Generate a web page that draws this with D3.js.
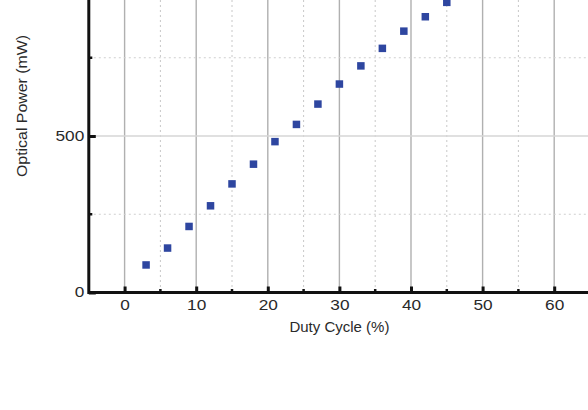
<!DOCTYPE html>
<html><head><meta charset="utf-8">
<script src="https://cdn.jsdelivr.net/npm/d3@7"></script>
<style>body{margin:0;background:#fff}svg{display:block}text{font-family:"Liberation Sans",Arial,sans-serif;fill:#2a2a2a}</style>
</head><body>
<svg id="c" width="588" height="410"></svg>
<script>
const dutyCycle = [3,6,9,12,15,18,21,24,27,30,33,36,39,42,45];
const opticalPower = [88,142,211,277,347,410,482,537,602,666,724,780,835,881,927];
const xMajorTicks = [0,10,20,30,40,50,60];
const xMinorTicks = [-5,5,15,25,35,45,55,65];
const yMajorTicks = [0,500];
const yMinorTicks = [250,750];
const xTitle = "Duty Cycle (%)";
const yTitle = "Optical Power (mW)";

const svg = d3.select("#c");
const x = d3.scaleLinear().domain([-5,65]).range([88.8,590]);
const y = d3.scaleLinear().domain([0,1000]).range([292.5,-20.5]);
const digitW = 9.6;

const grid = svg.append("g");
grid.selectAll(".vmin").data(xMinorTicks).join("line")
  .attr("x1",d=>x(d)).attr("x2",d=>x(d)).attr("y1",0).attr("y2",y(0))
  .attr("stroke","#c8c8c8").attr("stroke-width",1).attr("stroke-dasharray","2,3");
grid.selectAll(".vmaj").data(xMajorTicks).join("line")
  .attr("x1",d=>x(d)).attr("x2",d=>x(d)).attr("y1",0).attr("y2",y(0))
  .attr("stroke","#b0b0b0").attr("stroke-width",1.4);
grid.selectAll(".hmin").data(yMinorTicks).join("line")
  .attr("x1",x(-5)).attr("x2",588).attr("y1",d=>y(d)).attr("y2",d=>y(d))
  .attr("stroke","#cfcfcf").attr("stroke-width",1).attr("stroke-dasharray","2,3");
grid.selectAll(".hmaj").data(yMajorTicks.filter(d=>d>0)).join("line")
  .attr("x1",x(-5)).attr("x2",588).attr("y1",d=>y(d)).attr("y2",d=>y(d))
  .attr("stroke","#d6d6d6").attr("stroke-width",1.6);

// axes
const xAxisG = svg.append("g").attr("transform",`translate(0,${y(0)})`)
  .call(d3.axisBottom(x).tickValues(xMajorTicks).tickSize(-6).tickPadding(8).tickFormat(d3.format("d")));
xAxisG.select(".domain").remove();
xAxisG.selectAll(".tick line").attr("stroke","#111").attr("stroke-width",3);
xAxisG.selectAll(".tick text").attr("font-size",14).attr("fill","#2a2a2a")
  .attr("textLength",d=>String(d).length*digitW).attr("lengthAdjust","spacingAndGlyphs");
xAxisG.selectAll(".minor").data(xMinorTicks.filter(d=>d>-5)).join("line")
  .attr("x1",d=>x(d)).attr("x2",d=>x(d)).attr("y1",0).attr("y2",-3.5)
  .attr("stroke","#111").attr("stroke-width",2.5);

const yAxisG = svg.append("g").attr("transform",`translate(${x(-5)},0)`)
  .call(d3.axisLeft(y).tickValues(yMajorTicks).tickSize(-7).tickPadding(4.5).tickFormat(d3.format("d")));
yAxisG.select(".domain").remove();
yAxisG.selectAll(".tick line").attr("stroke","#111").attr("stroke-width",3);
yAxisG.selectAll(".tick text").attr("font-size",14).attr("fill","#2a2a2a")
  .attr("textLength",d=>String(d).length*digitW).attr("lengthAdjust","spacingAndGlyphs");
yAxisG.selectAll(".minor").data(yMinorTicks).join("line")
  .attr("x1",0).attr("x2",3.5).attr("y1",d=>y(d)).attr("y2",d=>y(d))
  .attr("stroke","#111").attr("stroke-width",2.5);

svg.append("line").attr("x1",x(-5)).attr("x2",588).attr("y1",y(0)).attr("y2",y(0))
  .attr("stroke","#111").attr("stroke-width",3);
svg.append("line").attr("x1",x(-5)).attr("x2",x(-5)).attr("y1",0).attr("y2",y(0)+1.5)
  .attr("stroke","#111").attr("stroke-width",3);

// points
const s = 7.5;
svg.append("g").selectAll("rect").data(dutyCycle.map((d,i)=>[d,opticalPower[i]])).join("rect")
  .attr("x",d=>x(d[0])-s/2).attr("y",d=>y(d[1])-s/2).attr("width",s).attr("height",s)
  .attr("fill","#2e46a0");

svg.append("text").attr("x",x(30)).attr("y",332).attr("text-anchor","middle")
  .attr("font-size",14).attr("textLength",100).attr("lengthAdjust","spacingAndGlyphs").text(xTitle);
svg.append("text").attr("transform","translate(27,106) rotate(-90)").attr("text-anchor","middle")
  .attr("font-size",14).attr("textLength",142).attr("lengthAdjust","spacingAndGlyphs").text(yTitle);
</script>
</body></html>
